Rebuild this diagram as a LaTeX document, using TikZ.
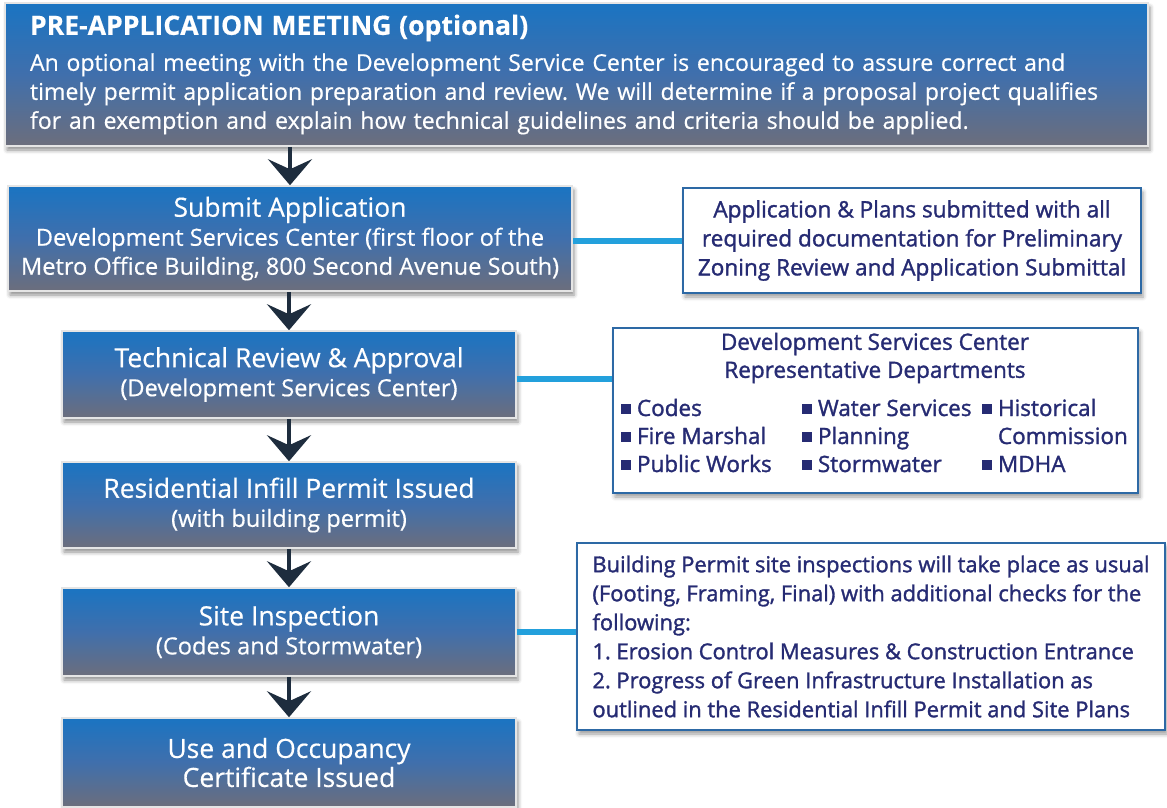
\documentclass[tikz,border=0pt]{standalone}
\usepackage{fontspec}
\setmainfont{Open Sans}[FakeBold=0]
\newfontfamily\wfont{Open Sans}[FakeBold=0.45]
\newfontfamily\semib{Open Sans}[FakeBold=1.4]
\frenchspacing
\usetikzlibrary{arrows.meta,calc,shadows.blur}
\definecolor{navy}{RGB}{38,43,115}
\definecolor{bordblue}{RGB}{45,105,165}
\definecolor{connblue}{RGB}{35,160,220}
\definecolor{arrowdark}{RGB}{30,45,62}
\definecolor{gtop}{RGB}{26,116,194}
\definecolor{gmid}{RGB}{64,111,172}
\definecolor{gbot}{RGB}{108,110,124}
\newcommand\bsq{\rule[0.1em]{0.42em}{0.42em}\hspace{0.28em}}
\newcommand\hdfont{\fontsize{26.5}{29}\selectfont}
\tikzset{
  bluebox/.style={top color=gtop, bottom color=gbot, middle color=gmid,
    draw=white!90!black, line width=1.5pt, text=white, inner sep=0pt,
    align=center, font=\wfont\fontsize{23.6}{29}\selectfont,
    blur shadow={shadow xshift=2pt, shadow yshift=-4pt, shadow blur radius=4pt, shadow opacity=45}},
  rbox/.style={fill=white, draw=bordblue, line width=2.5pt, text=navy, inner sep=0pt,
    font=\semib\fontsize{22.6}{29}\selectfont,
    blur shadow={shadow xshift=2pt, shadow yshift=-4pt, shadow blur radius=4pt, shadow opacity=40}},
  navytxt/.style={text=navy, inner sep=0pt, font=\semib\fontsize{22.5}{28}\selectfont},
  flowarr/.style={draw=arrowdark, line width=4pt, -{Stealth[length=26pt,width=44pt,inset=10pt]}},
  conn/.style={draw=connblue, line width=6pt}
}
\begin{document}
\begin{tikzpicture}[x=1pt,y=-1pt]
\useasboundingbox (0,0) rectangle (1167,808);
% main column
\node[bluebox, minimum width=1143pt, minimum height=143pt, text width=1093pt, align=left,
      font=\wfont\fontsize{23.1}{29}\selectfont] (pre) at (576.5,74.5)
  {{\bfseries\fontsize{26.6}{29}\selectfont PRE-APPLICATION MEETING (optional)}\\[7pt]
   An optional meeting with the Development Service Center is encouraged to assure correct and\\
   timely permit application preparation and review. We will determine if a proposal project qualifies\\
   for an exemption and explain how technical guidelines and criteria should be applied.};
\node[bluebox, minimum width=564pt, minimum height=105pt] (sub) at (290,238.5)
  {{\hdfont Submit Application}\\Development Services Center (first floor of the\\Metro Office Building, 800 Second Avenue South)};
\node[bluebox, minimum width=454pt, minimum height=87pt] (tech) at (289,374.5)
  {{\hdfont Technical Review \& Approval}\\(Development Services Center)};
\node[bluebox, minimum width=454pt, minimum height=86pt] (res) at (289,505)
  {{\hdfont Residential Infill Permit Issued}\\(with building permit)};
\node[bluebox, minimum width=454pt, minimum height=88pt] (site) at (289,632)
  {{\hdfont Site Inspection}\\(Codes and Stormwater)};
\node[bluebox, minimum width=454pt, minimum height=89pt] (use) at (289,762.5)
  {{\hdfont Use and Occupancy}\\{\hdfont Certificate Issued}};
% side boxes
\node[rbox, minimum width=458pt, minimum height=105pt, align=center] (rb1) at (912,240.5)
  {Application \& Plans submitted with all\\required documentation for Preliminary\\Zoning Review and Application Submittal};
\node[rbox, minimum width=525pt, minimum height=165pt] (rb2) at (875.5,410.5) {};
\node[navytxt, align=center] (rb2h) at (875,358) {Development Services Center\\Representative Departments};
\node[navytxt, anchor=base west] (d1) at (621,416) {\bsq Codes};
\node[navytxt, anchor=base west] (d2) at (621,444) {\bsq Fire Marshal};
\node[navytxt, anchor=base west] (d3) at (621,472) {\bsq Public Works};
\node[navytxt, anchor=base west] (d4) at (802,416) {\bsq Water Services};
\node[navytxt, anchor=base west] (d5) at (802,444) {\bsq Planning};
\node[navytxt, anchor=base west] (d6) at (802,472) {\bsq Stormwater};
\node[navytxt, anchor=base west] (d7) at (982,416) {\bsq Historical};
\node[navytxt, anchor=base west] (d8) at (982,444) {\phantom{\bsq}Commission};
\node[navytxt, anchor=base west] (d9) at (982,472) {\bsq MDHA};
\node[rbox, minimum width=588pt, minimum height=187pt, align=left,
      font=\semib\fontsize{21.9}{29}\selectfont] (rb3) at (871,636.5)
  {Building Permit site inspections will take place as usual\\
   (Footing, Framing, Final) with additional checks for the\\
   following:\\
   1. Erosion Control Measures \& Construction Entrance\\
   2. Progress of Green Infrastructure Installation as\\
   outlined in the Residential Infill Permit and Site Plans};
% arrows
\draw[flowarr] (pre.south -| sub.north) -- (sub.north);
\draw[flowarr] (sub.south -| tech.north) -- (tech.north);
\draw[flowarr] (tech.south) -- (res.north);
\draw[flowarr] (res.south) -- (site.north);
\draw[flowarr] (site.south) -- (use.north);
% connectors
\draw[conn] (rb1.west) -- (rb1.west -| sub.east);
\coordinate (c2) at ($(tech.east)+(0,4.5)$);
\draw[conn] (c2) -- (c2 -| rb2.west);
\draw[conn] (site.east) -- (site.east -| rb3.west);
\end{tikzpicture}
\end{document}
